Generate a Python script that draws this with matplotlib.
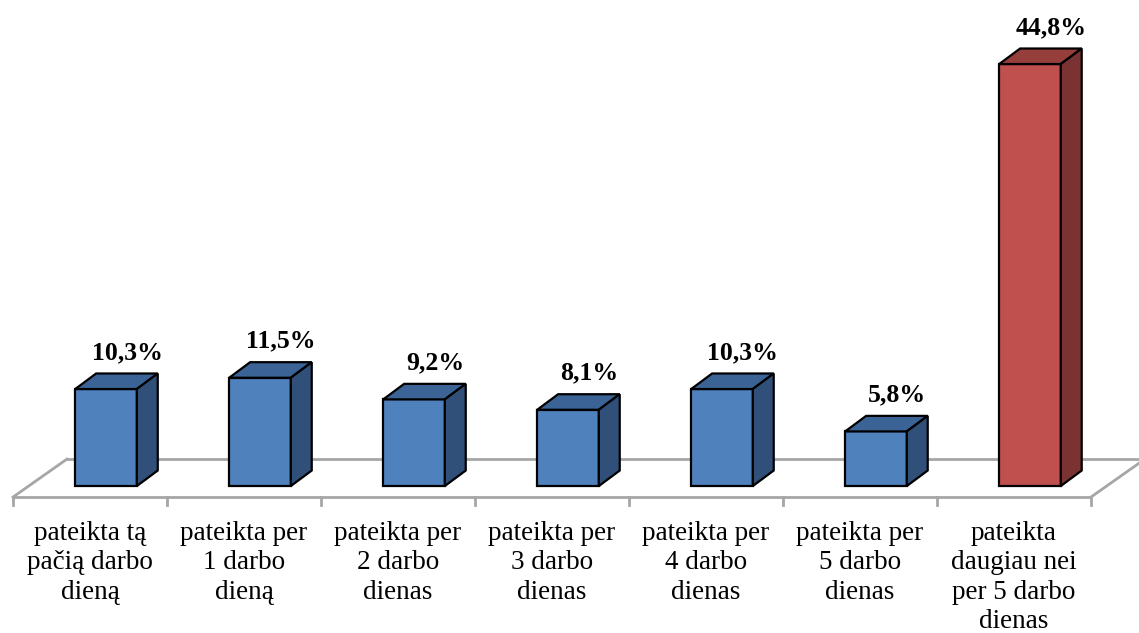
import matplotlib.pyplot as plt
from matplotlib.patches import Polygon

labels = ["pateikta tą\npačią darbo\ndieną", "pateikta per\n1 darbo\ndieną",
          "pateikta per\n2 darbo\ndienas", "pateikta per\n3 darbo\ndienas",
          "pateikta per\n4 darbo\ndienas", "pateikta per\n5 darbo\ndienas",
          "pateikta\ndaugiau nei\nper 5 darbo\ndienas"]
values = [10.3, 11.5, 9.2, 8.1, 10.3, 5.8, 44.8]
value_text = ["10,3%", "11,5%", "9,2%", "8,1%", "10,3%", "5,8%", "44,8%"]

blue = ("#4F81BD", "#3B6396", "#30507A")
red = ("#C0504D", "#953E3C", "#7A3232")
colors = [blue] * 6 + [red]

# pseudo-3d geometry (data units)
floor_dx, floor_dy = 0.35, 4.03
bar_dx, bar_dy = 0.136, 1.65
bar_w = 0.40
shift = 0.104
floor_y = -1.17

plt.rcParams["font.family"] = ["Liberation Serif", "DejaVu Serif"]

fig = plt.figure(figsize=(11.39, 6.33), dpi=100)
ax = fig.add_axes([0, 0, 1, 1])
ax.set_xlim(-0.5844, 6.812)
ax.set_ylim(-15.6, 51.6)
ax.axis("off")

n = len(values)
gray = "#A6A6A6"
# floor
x0, x1 = -0.5, n - 0.5
ax.plot([x0, x1], [floor_y, floor_y], color=gray, lw=2, solid_capstyle="butt")
ax.plot([x0 + floor_dx, x1 + floor_dx], [floor_y + floor_dy] * 2, color=gray, lw=2)
ax.plot([x0, x0 + floor_dx], [floor_y, floor_y + floor_dy], color=gray, lw=2)
ax.plot([x1, x1 + floor_dx], [floor_y, floor_y + floor_dy], color=gray, lw=2)
for k in range(n + 1):
    ax.plot([k - 0.5, k - 0.5], [floor_y, floor_y - 0.85], color=gray, lw=2)

xc = [i + shift for i in range(n)]
ax.bar(xc, values, width=bar_w, color=[c[0] for c in colors],
       edgecolor="black", linewidth=1.6, zorder=3)
for i, v in enumerate(values):
    xl, xr = xc[i] - bar_w / 2, xc[i] + bar_w / 2
    top = Polygon([(xl, v), (xr, v), (xr + bar_dx, v + bar_dy), (xl + bar_dx, v + bar_dy)],
                  closed=True, facecolor=colors[i][1], edgecolor="black", lw=1.6, zorder=3)
    side = Polygon([(xr, 0), (xr + bar_dx, bar_dy), (xr + bar_dx, v + bar_dy), (xr, v)],
                   closed=True, facecolor=colors[i][2], edgecolor="black", lw=1.6, zorder=3)
    ax.add_patch(top)
    ax.add_patch(side)
    ax.text(xc[i] + bar_dx, v + bar_dy + 1.0, value_text[i], ha="center", va="bottom",
            fontsize=18.5, fontweight="bold")
    ax.text(i, floor_y - 2.5, labels[i], ha="center", va="top", fontsize=19.5,
            linespacing=1.24)

fig.savefig("out.png", dpi=100)
